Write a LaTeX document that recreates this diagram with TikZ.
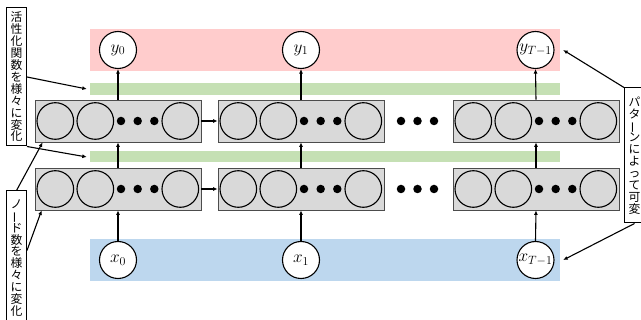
\documentclass[tikz,border=0pt]{standalone}
\usepackage{fontspec}
\usepackage{graphicx}
\newfontfamily\cjk{Noto Sans CJK JP}
\usetikzlibrary{arrows.meta}
\definecolor{bandred}{RGB}{255,204,204}
\definecolor{bandgreen}{RGB}{197,224,180}
\definecolor{bandblue}{RGB}{189,215,238}
\definecolor{cellgray}{RGB}{217,217,217}
\newcommand{\vbar}{\smash{\rotatebox[origin=c]{90}{ー}}}
\begin{document}
\begin{tikzpicture}[x=1pt,y=-1pt,
  band/.style={draw=none,minimum width=470pt,inner sep=0pt},
  layerbox/.style={draw=black!70,fill=cellgray,minimum width=166pt,minimum height=42pt,inner sep=0pt,line width=0.8pt},
  unit/.style={circle,draw=black,line width=1.1pt,fill=cellgray,minimum size=36.6pt,inner sep=0pt},
  io/.style={circle,draw=black,line width=1.1pt,fill=white,minimum size=37pt,inner sep=0pt,font=\LARGE},
  dotc/.style={circle,fill=black,minimum size=8.5pt,inner sep=0pt},
  lab/.style={draw=black,line width=1pt,fill=white,inner sep=0pt,minimum width=20pt,align=center,font=\cjk\fontsize{11.8}{11.9}\selectfont},
  conn/.style={line width=1.1pt,-{Latex[length=4.5pt,width=4pt]}},
  ]
\useasboundingbox (0,0) rectangle (641,320);
% bands
\node[band,fill=bandred,minimum height=42pt] (red) at (325,50) {};
\node[band,fill=bandgreen,minimum height=12pt] (g1) at (325,89) {};
\node[band,fill=bandgreen,minimum height=11pt] (g2) at (325,157) {};
\node[band,fill=bandblue,minimum height=42pt] (blue) at (325,260) {};
% layers
\foreach \i/\L in {1/35,2/218,3/453} {
  \foreach \r/\Y in {u/121,l/189} {
    \node[layerbox] (b\r\i) at (\L+83,\Y) {};
    \node[unit] (c\r\i a) at (\L+20.3,\Y) {};
    \node[unit] (c\r\i b) at (\L+60.3,\Y) {};
    \node[dotc] (d\r\i a) at (\L+86,\Y) {};
    \node[dotc] (d\r\i b) at (\L+102.7,\Y) {};
    \node[dotc] (d\r\i c) at (\L+119.3,\Y) {};
    \node[unit] (c\r\i c) at (\L+145.3,\Y) {};
  }
}
\foreach \r/\Y in {u/121,l/189} {
  \node[dotc] (m\r a) at (401,\Y) {};
  \node[dotc] (m\r b) at (417.5,\Y) {};
  \node[dotc] (m\r c) at (434,\Y) {};
}
% inputs / outputs
\node[io] (y0) at (118,50) {$y_0$};
\node[io] (y1) at (301,50) {$y_1$};
\node[io] (yT) at (535.5,50) {$y_{T-1}$};
\node[io] (x0) at (118,260) {$x_0$};
\node[io] (x1) at (301,260) {$x_1$};
\node[io] (xT) at (535.5,260) {$x_{T-1}$};
% vertical arrows
\draw[conn] (bu1.north) -- (y0.south);
\draw[conn] (bu2.north) -- (y1.south);
\draw[conn] (bu3.north) -- (yT.south);
\draw[conn] (bl1.north) -- (bu1.south);
\draw[conn] (bl2.north) -- (bu2.south);
\draw[conn] (bl3.north) -- (bu3.south);
\draw[conn] (x0.north) -- (bl1.south);
\draw[conn] (x1.north) -- (bl2.south);
\draw[conn] (xT.north) -- (bl3.south);
% horizontal arrows
\draw[conn] (bu1.east) -- (bu2.west);
\draw[conn] (bl1.east) -- (bl2.west);
% labels
\node[lab,minimum height=138pt] (labA) at (16.5,77) {活\\性\\化\\関\\数\\を\\様\\々\\に\\変\\化};
\node[lab,minimum height=134pt] (labB) at (16.5,258) {ノ\\\vbar\\ド\\数\\を\\様\\々\\に\\変\\化};
\node[lab,minimum height=135pt] (labC) at (634.5,155.5) {パ\\タ\\\vbar\\ン\\に\\よ\\っ\\て\\可\\変};
\coordinate (tB1) at ([xshift=8pt]bu1.south west);
\coordinate (tB2) at ([xshift=7pt]bl1.south west);
\draw[conn] (labA.east) -- ([xshift=-3pt]g1.west);
\draw[conn] (labA.south east) -- ([xshift=-3pt]g2.west);
\draw[conn] (labB.north) -- (tB1);
\draw[conn] ([yshift=7.5pt]labB.east) -- (tB2);
\draw[conn] (labC.north west) -- ([xshift=3pt]red.east);
\draw[conn] (labC.south) -- ([xshift=3pt]blue.east);
\end{tikzpicture}
\end{document}
